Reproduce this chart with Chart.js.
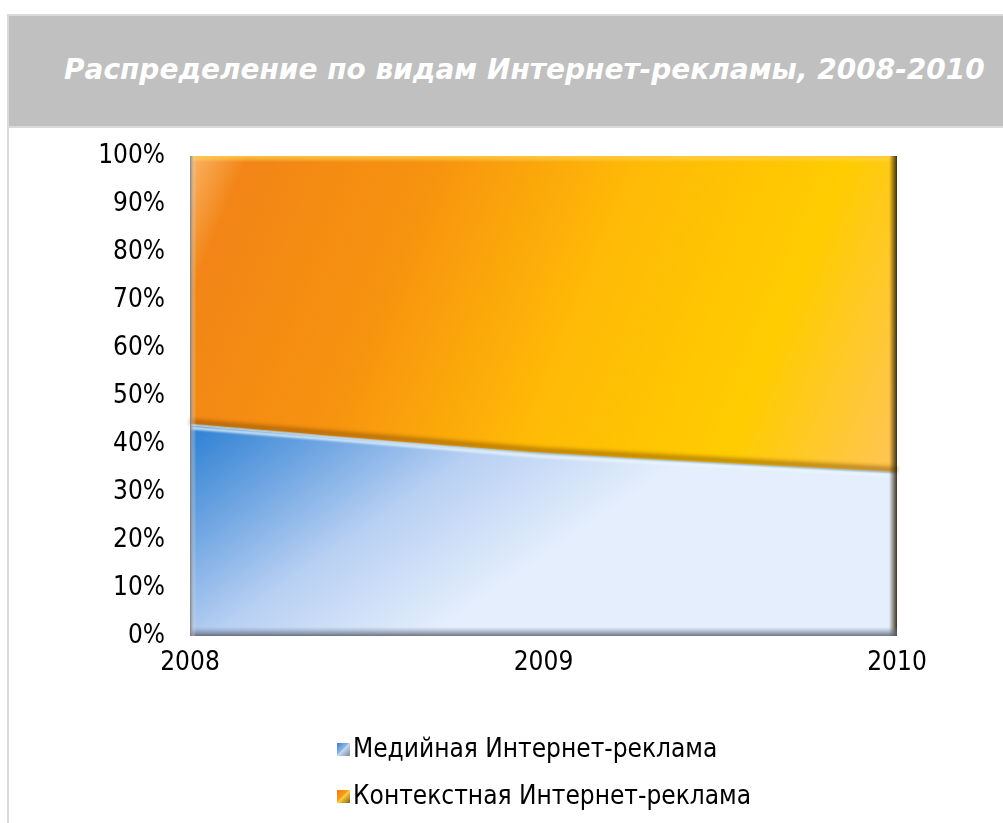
<!DOCTYPE html>
<html>
<head>
<meta charset="utf-8">
<script src="https://cdn.jsdelivr.net/npm/chart.js@4/dist/chart.umd.min.js"></script>
<style>
  html, body { margin: 0; padding: 0; background: #fff; width: 1003px; height: 823px; overflow: hidden; }
  #frame { position: absolute; left: 7px; top: 14px; width: 2px; height: 809px; background: #d9d9d9; }
  #titlebox { position: absolute; left: 9px; top: 14px; width: 994px; height: 114px; background: #c0c0c0;
              border-top: 2px solid #d9d9d9; border-bottom: 2px solid #d9d9d9; box-sizing: border-box; }
  #title { position: absolute; left: 64px; top: 51px; font-family: "DejaVu Sans"; font-weight: bold; font-style: italic;
           font-size: 28px; color: #fff; white-space: nowrap; line-height: 38px; }
  #wrap { position: absolute; left: 0; top: 0; width: 1003px; height: 823px; }
  #legend { position: absolute; left: 337px; top: 730px; font-family: "DejaVu Sans Condensed"; font-size: 26px; color: #000; }
  .item { height: 47px; line-height: 36px; white-space: nowrap; }
  .box { display: inline-block; width: 13px; height: 13px; margin-right: 3px; vertical-align: 1px; }
</style>
</head>
<body>
<div id="frame"></div>
<div id="titlebox"></div>
<div id="title">Распределение по видам Интернет-рекламы, 2008-2010</div>
<div id="wrap"><canvas id="c" width="1003" height="823"></canvas></div>
<div id="legend"></div>
<script>
const categories = ["2008", "2009", "2010"];
const seriesNames = ["Медийная Интернет-реклама", "Контекстная Интернет-реклама"];
const mediaShare = [44, 38, 34];
const contextShare = [56, 62, 66];
const yTicks = [0, 10, 20, 30, 40, 50, 60, 70, 80, 90, 100];

function blueFill(ctx) {
  const a = ctx.chart.chartArea;
  if (!a) return '#6fa8e0';
  const g = ctx.chart.ctx.createLinearGradient(a.left, a.top + a.height * 0.56, a.left + a.width * 0.25, a.bottom + a.height * 0.09);
  g.addColorStop(0, '#2a7fd2');
  g.addColorStop(0.3, '#70a6e2');
  g.addColorStop(0.6, '#b8d0f3');
  g.addColorStop(1, '#e4eefc');
  return g;
}
function orangeFill(ctx) {
  const a = ctx.chart.chartArea;
  if (!a) return '#ffa500';
  const g = ctx.chart.ctx.createLinearGradient(a.left, a.top, a.right, a.top + a.height * 0.6);
  g.addColorStop(0, '#fbb468');
  g.addColorStop(0.07, '#f28516');
  g.addColorStop(0.3, '#f7930f');
  g.addColorStop(0.55, '#ffba06');
  g.addColorStop(0.8, '#ffcc00');
  g.addColorStop(1, '#ffc552');
  return g;
}

const bevel = {
  id: 'bevel',
  afterDatasetsDraw(chart) {
    const c = chart.ctx, a = chart.chartArea;
    c.save();
    const pts = chart.getDatasetMeta(0).data;
    if (pts.length) {
      c.beginPath();
      c.moveTo(pts[0].x, pts[0].y - 3);
      for (let i = 1; i < pts.length; i++) c.lineTo(pts[i].x, pts[i].y - 3);
      c.strokeStyle = 'rgba(120,70,0,0.55)';
      c.lineWidth = 5;
      c.filter = 'blur(2px)';
      c.stroke();
      c.filter = 'none';
      c.beginPath();
      c.moveTo(pts[0].x, pts[0].y + 3);
      for (let i = 1; i < pts.length; i++) c.lineTo(pts[i].x, pts[i].y + 3);
      c.strokeStyle = 'rgba(235,248,255,0.85)';
      c.lineWidth = 3;
      c.filter = 'blur(1px)';
      c.stroke();
      c.filter = 'none';
    }
    let g = c.createLinearGradient(0, a.top, 0, a.top + 6);
    g.addColorStop(0, 'rgba(255,200,60,0.9)');
    g.addColorStop(1, 'rgba(255,230,120,0)');
    c.fillStyle = g; c.fillRect(a.left, a.top, a.width, 6);
    g = c.createLinearGradient(a.right - 8, 0, a.right, 0);
    g.addColorStop(0, 'rgba(60,40,0,0)');
    g.addColorStop(1, 'rgba(40,30,10,0.9)');
    c.fillStyle = g; c.fillRect(a.right - 8, a.top, 8, a.height);
    g = c.createLinearGradient(0, a.bottom - 9, 0, a.bottom);
    g.addColorStop(0, 'rgba(120,130,150,0)');
    g.addColorStop(1, 'rgba(90,95,110,0.85)');
    c.fillStyle = g; c.fillRect(a.left, a.bottom - 9, a.width, 9);
    g = c.createLinearGradient(a.left, 0, a.left + 6, 0);
    g.addColorStop(0, 'rgba(120,120,120,0.9)');
    g.addColorStop(1, 'rgba(255,255,255,0)');
    c.fillStyle = g; c.fillRect(a.left, a.top, 6, a.height);
    c.restore();
  }
};

const chart = new Chart(document.getElementById('c'), {
  type: 'line',
  data: {
    labels: categories,
    datasets: [
      { label: seriesNames[0], data: mediaShare, fill: 'origin', backgroundColor: blueFill,
        borderColor: '#b9e0ff', borderWidth: 2, pointRadius: 0, cubicInterpolationMode: 'monotone' },
      { label: seriesNames[1], data: contextShare, fill: '-1', backgroundColor: orangeFill,
        borderColor: 'rgba(0,0,0,0)', borderWidth: 0, pointRadius: 0, cubicInterpolationMode: 'monotone' }
    ]
  },
  options: {
    responsive: false,
    animation: false,
    layout: { padding: { left: 0, right: 106, top: 156, bottom: 137 } },
    plugins: { legend: { display: false }, tooltip: { enabled: false } },
    scales: {
      x: {
        offset: false,
        grid: { display: false, drawTicks: false },
        border: { display: false },
        ticks: { color: '#000', font: { family: 'DejaVu Sans Condensed', size: 26 }, padding: 12, maxRotation: 0 },
        afterFit(s) { s.height = 50; }
      },
      y: {
        stacked: true, min: 0, max: 100,
        grid: { display: false, drawTicks: false },
        border: { display: false },
        afterBuildTicks(s) { s.ticks = yTicks.map(v => ({ value: v })); },
        ticks: { color: '#000', font: { family: 'DejaVu Sans Condensed', size: 26 }, padding: 25,
                 callback: v => v + '%' },
        afterFit(s) { s.width = 190; }
      }
    }
  },
  plugins: [bevel]
});

const swatches = [
  'linear-gradient(135deg, #3a78c8 0%, #8fb8e8 45%, #c8d8ee 50%, #7a8aa0 100%)',
  'linear-gradient(135deg, #f07a10 0%, #f8a020 45%, #ffd040 50%, #8a6010 100%)'
];
const leg = document.getElementById('legend');
seriesNames.forEach((n, i) => {
  const d = document.createElement('div'); d.className = 'item';
  const b = document.createElement('span'); b.className = 'box'; b.style.background = swatches[i];
  d.appendChild(b); d.appendChild(document.createTextNode(n));
  leg.appendChild(d);
});
</script>
</body>
</html>
